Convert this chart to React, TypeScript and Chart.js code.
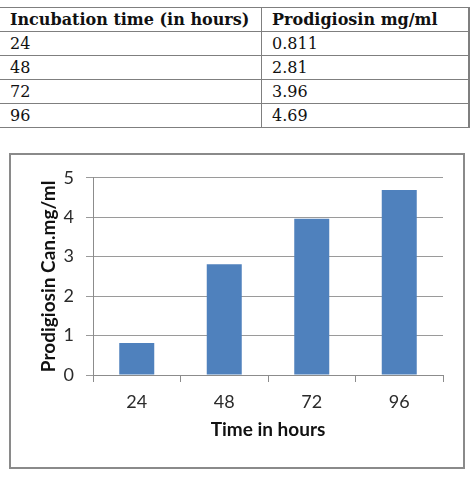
import { useEffect, useRef } from "react";
import { Chart, registerables } from "chart.js";

Chart.register(...registerables);

// Incubation time (hours) and measured prodigiosin concentration (mg/ml)
const hours = ["24", "48", "72", "96"];
const prodigiosin = [0.811, 2.81, 3.96, 4.69];
const tableHeaders = ["Incubation time (in hours)", "Prodigiosin mg/ml"];
const tableValues = ["0.811", "2.81", "3.96", "4.69"];

const xTitle = "Time in hours";
const yTitle = "Prodigiosin Can.mg/ml";
const yMin = 0;
const yMax = 5;
const yStep = 1;

const chartFont = "Lato, 'Liberation Sans', sans-serif";
const tableFont = "'DejaVu Serif', 'Liberation Serif', serif";

function ProdigiosinChart() {
  const canvasRef = useRef<HTMLCanvasElement | null>(null);

  useEffect(() => {
    const canvas = canvasRef.current;
    if (!canvas) return;
    const chart = new Chart(canvas, {
      type: "bar",
      data: {
        labels: hours,
        datasets: [
          {
            data: prodigiosin,
            backgroundColor: "#4F81BD",
            borderWidth: 0,
            barPercentage: 1,
            categoryPercentage: 0.4,
          },
        ],
      },
      options: {
        animation: false,
        responsive: false,
        maintainAspectRatio: false,
        layout: { padding: { top: 21, right: 20, left: 0, bottom: 0 } },
        plugins: {
          legend: { display: false },
          tooltip: { enabled: false },
        },
        scales: {
          x: {
            grid: {
              display: true,
              drawOnChartArea: false,
              drawTicks: true,
              tickLength: 7,
              color: "#8c8c8c",
              offset: true,
            },
            border: { display: true, color: "#8c8c8c", width: 1 },
            ticks: {
              color: "#2b2b2b",
              padding: 9,
              font: { family: chartFont, size: 18 },
            },
            title: {
              display: true,
              text: xTitle,
              color: "#111",
              padding: { top: 0, bottom: 26 },
              font: { family: chartFont, size: 19, weight: "bold" },
            },
            afterFit: (scale: any) => {
              scale.height = 92;
            },
          },
          y: {
            min: yMin,
            max: yMax,
            ticks: {
              stepSize: yStep,
              color: "#2b2b2b",
              padding: 12,
              font: { family: chartFont, size: 18 },
            },
            grid: {
              color: "#9a9a9a",
              tickLength: 7,
              lineWidth: 1,
            },
            border: { display: true, color: "#8c8c8c", width: 1 },
            title: {
              display: true,
              text: yTitle,
              color: "#111",
              padding: { top: 26, bottom: 0 },
              font: { family: chartFont, size: 19, weight: "bold" },
            },
            afterFit: (scale: any) => {
              scale.width = 82;
            },
          },
        },
      },
    });
    return () => chart.destroy();
  }, []);

  return (
    <canvas
      ref={canvasRef}
      width={452}
      height={312}
      style={{ display: "block", width: 452, height: 312 }}
    />
  );
}

const cellStyle: React.CSSProperties = {
  borderTop: "1px solid #7f7f7f",
  borderBottom: "1px solid #7f7f7f",
  padding: "0 10px",
  height: 23,
  lineHeight: "23px",
  textAlign: "left",
  whiteSpace: "nowrap",
};

export default function App() {
  return (
    <div
      style={{
        position: "absolute",
        left: 0,
        top: 0,
        width: 473,
        height: 477,
        background: "#fff",
        overflow: "hidden",
      }}
    >
      <table
        style={{
          position: "absolute",
          left: 0,
          top: 7,
          width: 470,
          borderCollapse: "collapse",
          fontFamily: tableFont,
          fontSize: 16,
          color: "#111",
        }}
      >
        <thead>
          <tr>
            <th style={{ ...cellStyle, width: 241, borderRight: "1px solid #7f7f7f" }}>
              {tableHeaders[0]}
            </th>
            <th style={{ ...cellStyle, borderRight: "2px solid #7f7f7f" }}>{tableHeaders[1]}</th>
          </tr>
        </thead>
        <tbody>
          {hours.map((h, i) => (
            <tr key={h}>
              <td style={{ ...cellStyle, fontWeight: "normal", borderRight: "1px solid #7f7f7f" }}>
                {h}
              </td>
              <td style={{ ...cellStyle, borderRight: "2px solid #7f7f7f" }}>{tableValues[i]}</td>
            </tr>
          ))}
        </tbody>
      </table>

      <div
        style={{
          position: "absolute",
          left: 9,
          top: 153,
          width: 452,
          height: 312,
          border: "2px solid #8a8a8a",
        }}
      >
        <ProdigiosinChart />
      </div>
    </div>
  );
}
